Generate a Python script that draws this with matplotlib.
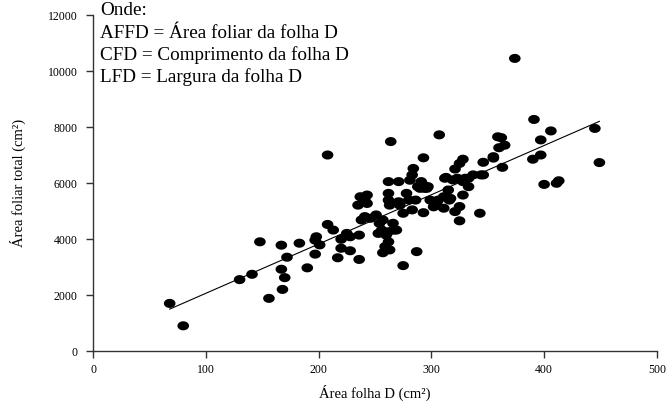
import numpy as np
import matplotlib
matplotlib.use("Agg")
import matplotlib.pyplot as plt
from matplotlib.path import Path

plt.rcParams['font.family'] = ['Liberation Serif', 'DejaVu Serif']

# -------------------------------------------------------
# dados
# -------------------------------------------------------
area_folha_d = [
    68, 80, 130, 141, 148, 156, 167, 167, 168, 170, 172, 183, 190, 197, 201, 197,
    208, 213, 208, 220, 228, 236, 220, 228, 217, 236, 241, 251, 254, 256, 253, 260,
    262, 259, 263, 257, 267, 235, 243, 237, 243, 241, 264, 262, 271, 262, 262, 263,
    271, 275, 283, 293, 302, 311, 321, 325, 316, 343, 287, 275, 278, 280, 272, 286,
    284, 283, 281, 293, 307, 328, 325, 321, 312, 319, 328, 333, 291, 294, 290, 315,
    317, 311, 306, 299, 328, 325, 333, 297, 293, 305, 346, 355, 363, 360, 365, 362,
    346, 337, 374, 391, 406, 445, 397, 449, 397, 390, 400, 411, 413, 323, 330, 313,
    246, 257, 238, 262, 269, 266, 198, 225, 288, 296, 344, 355, 359,
]
area_foliar_total = [
    1700, 900, 2550, 2740, 3900, 1880, 3780, 2920, 2200, 2620, 3350, 3850, 2970, 3960, 3790, 3460,
    4520, 4320, 7000, 3990, 4080, 4140, 3670, 3580, 3330, 3270, 4800, 4860, 4560, 4320, 4200, 4140,
    3900, 3730, 3610, 3510, 4320, 5210, 5270, 5510, 5570, 5390, 7480, 6050, 6050, 5630, 5390, 5210,
    5330, 4920, 5040, 4940, 5150, 5100, 4980, 4650, 5390, 4920, 3550, 3050, 5630, 5390, 5210, 5390,
    6520, 6290, 6100, 6900, 7720, 6850, 6700, 6500, 6170, 6110, 6050, 6170, 6050, 5810, 5810, 5750,
    5450, 5510, 5390, 5390, 5570, 5160, 5870, 5870, 5930, 5210, 6740, 6890, 6560, 7260, 7350, 7620,
    6290, 6290, 10450, 8270, 7860, 7950, 7540, 6730, 7000, 6850, 5950, 5990, 6080, 6170, 6170, 6200,
    4740, 4680, 4680, 4260, 4320, 4560, 4080, 4200, 5870, 5810, 6290, 6940, 7650,
]

# reta ajustada
inclinacao = 17.6
intercepto = 300

legenda = [
    "Onde:",
    "AFFD = Área foliar da folha D",
    "CFD = Comprimento da folha D",
    "LFD = Largura da folha D",
]

# -------------------------------------------------------
# figura
# -------------------------------------------------------
fig = plt.figure(figsize=(6.71, 4.09), dpi=100)
ax = fig.add_axes([0.1386, 0.1418, 0.8404, 0.8215])

# marcador eliptico (pontos levemente achatados)
t = np.linspace(0, 2 * np.pi, 40)
elipse = Path(np.column_stack([np.cos(t), 0.78 * np.sin(t)]), closed=True)

ax.scatter(area_folha_d, area_foliar_total, s=70, marker=elipse,
           color='black', edgecolors='none', zorder=3)

xr = np.array([min(area_folha_d), max(area_folha_d)])
ax.plot(xr, inclinacao * xr + intercepto, color='black', linewidth=0.8, zorder=2)

ax.set_xlim(0, 500)
ax.set_ylim(0, 12000)
ax.set_xticks(np.arange(0, 501, 100))
ax.set_yticks(np.arange(0, 12001, 2000))
for lado in ['top', 'right']:
    ax.spines[lado].set_visible(False)
for lado in ['left', 'bottom']:
    ax.spines[lado].set_linewidth(1.0)
    ax.spines[lado].set_color('#333333')
ax.tick_params(direction='out', length=5, width=1.0, color='#333333',
               labelsize=8.5)
ax.tick_params(axis='x', pad=4)
ax.tick_params(axis='y', pad=6)

ax.set_xlabel("Área folha D (cm²)", fontsize=10.5, labelpad=7)
ax.set_ylabel("Área foliar total (cm²)", fontsize=10.5, labelpad=16)

# texto explicativo no topo
baselines = [15, 37.5, 60, 82.5]
for linha, yb in zip(legenda, baselines):
    fig.text(100 / 671, 1 - yb / 409, linha, fontsize=13.8, va='baseline',
             ha='left', color='black')

fig.savefig('out.png', dpi=100)
